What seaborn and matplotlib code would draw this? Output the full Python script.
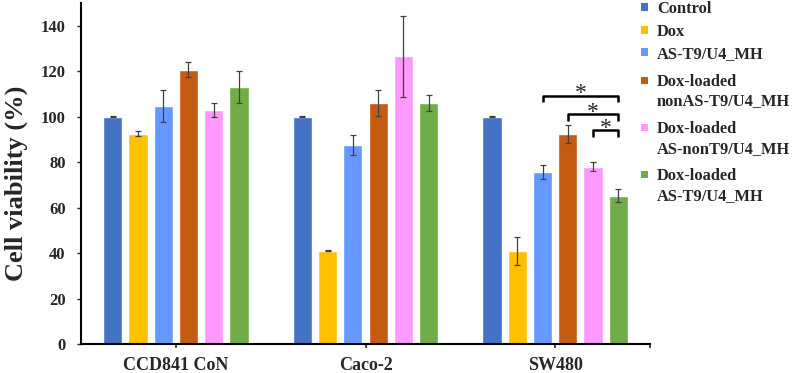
import numpy as np
import pandas as pd
import seaborn as sns
import matplotlib.pyplot as plt
from matplotlib.patches import Rectangle

cells = ["CCD841 CoN", "Caco-2", "SW480"]
groups = ["Control", "Dox", "AS-T9/U4_MH", "Dox-loaded\nnonAS-T9/U4_MH",
          "Dox-loaded\nAS-nonT9/U4_MH", "Dox-loaded\nAS-T9/U4_MH"]
colors = ["#4472C4", "#FFC000", "#6699FF", "#C55A11", "#FF99FF", "#70AD47"]

# mean viability (%) per cell line, one list per treatment
control = [100, 100, 100]
dox = [92.5, 41, 41]
as_t9 = [104.8, 87.7, 75.7]
nonas_t9 = [120.6, 106, 92.3]
as_nont9 = [103, 126.5, 78]
dox_as_t9 = [113, 106, 65.3]

# error bars
control_err = [0.3, 0.2, 0.2]
dox_err = [1.2, 0.3, 6.2]
as_t9_err = [7, 4.4, 3]
nonas_t9_err = [3.3, 5.8, 4]
as_nont9_err = [3.2, 18, 2]
dox_as_t9_err = [7.2, 3.4, 2.8]

# significance brackets on SW480: from treatment index -> last treatment
sig_from = [2, 3, 4]
sig_level = [109.3, 101, 94]

values = [control, dox, as_t9, nonas_t9, as_nont9, dox_as_t9]
errors = [control_err, dox_err, as_t9_err, nonas_t9_err, as_nont9_err, dox_as_t9_err]

rows = []
for g, vals in zip(groups, values):
    for c, v in zip(cells, vals):
        rows.append({"cell": c, "group": g, "viability": v})
df = pd.DataFrame(rows)

sns.set_style("white")
plt.rcParams["font.family"] = ["Liberation Serif", "DejaVu Serif"]
plt.rcParams["font.weight"] = "bold"

fig = plt.figure(figsize=(7.94, 3.73), dpi=100)
ax = fig.add_axes([81 / 794, 29 / 373, 569 / 794, 341 / 373])

sns.barplot(data=df, x="cell", y="viability", hue="group", order=cells,
            hue_order=groups, palette=colors, width=0.8, gap=0.24,
            saturation=1, errorbar=None, legend=False, ax=ax)

bars = list(ax.containers)
centers = [[b.get_x() + b.get_width() / 2 for b in cont] for cont in bars]
for i, xs in enumerate(centers):
    ax.errorbar(xs, values[i], yerr=errors[i], fmt="none", ecolor="#404040",
                elinewidth=0.9, capsize=2.2, capthick=0.9)

# brackets
sw = [xs[2] for xs in centers]
for g, y in zip(sig_from, sig_level):
    x0, x1 = sw[g], sw[-1]
    ax.plot([x0, x0, x1, x1], [y - 3, y, y, y - 3], color="black", lw=1.8,
            solid_capstyle="butt")
    ax.text((x0 + x1) / 2, y - 1.6, "*", ha="center", va="baseline",
            fontsize=17, fontweight="normal")

ax.set_ylim(0, 150)
ax.set_xlim(-0.5, 2.5)
ax.set_yticks(range(0, 141, 20))
ax.set_xticks([0, 1, 2, 2.5])
ax.set_xticklabels(cells + [""])
ax.tick_params(axis="y", labelsize=12, length=3, width=1, direction="out",
               left=True, pad=8)
ax.tick_params(axis="x", labelsize=13, length=3, width=1.2, direction="out",
               bottom=True, pad=6)
ax.set_xlabel("")
ax.set_ylabel("Cell viability (%)", fontsize=19, fontweight="bold")
ax.yaxis.set_label_coords(-0.094, 0.47)
for s in ["top", "right"]:
    ax.spines[s].set_visible(False)
ax.spines["left"].set_color("black")
ax.spines["left"].set_linewidth(1.5)
ax.spines["bottom"].set_color("black")
ax.spines["bottom"].set_linewidth(1.5)

# legend outside, on the right
line_y = [[7], [30], [52], [80, 99.5], [127, 147], [174, 194]]
for g, col, ys in zip(groups, colors, line_y):
    fig.add_artist(Rectangle(((641) / 794, 1 - (ys[0] + 3.5) / 373), 7 / 794, 7 / 373,
                             transform=fig.transFigure, color=col, lw=0))
    for txt, y in zip(g.split("\n"), ys):
        fig.text(657 / 794, 1 - y / 373, txt, ha="left", va="center_baseline",
                 fontsize=11.8, fontweight="bold")

fig.savefig("out.png", dpi=100)
